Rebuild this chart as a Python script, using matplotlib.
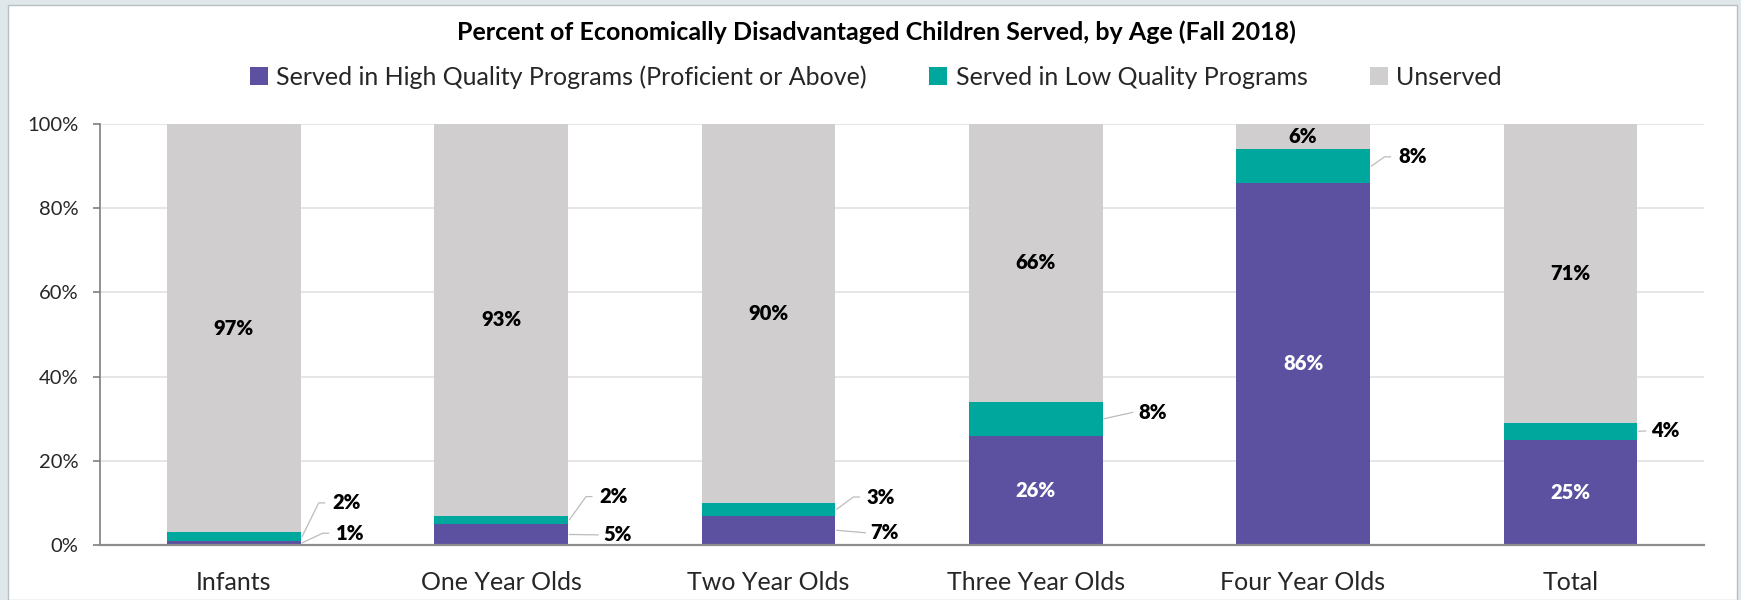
import matplotlib
matplotlib.use("Agg")
import matplotlib.pyplot as plt
from matplotlib.patches import Rectangle, Patch

# ---------------- data ----------------
categories = ["Infants", "One Year Olds", "Two Year Olds", "Three Year Olds", "Four Year Olds", "Total"]
high_quality = [1, 5, 7, 26, 86, 25]
low_quality = [2, 2, 3, 8, 8, 4]
unserved = [97, 93, 90, 66, 6, 71]
series_names = ["Served in High Quality Programs (Proficient or Above)",
                "Served in Low Quality Programs", "Unserved"]
yticks = [0, 20, 40, 60, 80, 100]
ytick_labels = ["0%", "20%", "40%", "60%", "80%", "100%"]
title = "Percent of Economically Disadvantaged Children Served, by Age (Fall 2018)"

# ---------------- layout / style ----------------
colors = ["#5b51a0", "#00a79d", "#d0cecf"]
FONT = ["Lato", "DejaVu Sans"]
plt.rcParams["font.family"] = FONT

# outside label placement: (series index, category index) -> (x offset from centre, label y)
outside = {
    (0, 0): (0.383, 2.8), (1, 0): (0.368, 10.0),
    (0, 1): (0.383, 2.4), (1, 1): (0.368, 11.5),
    (0, 2): (0.383, 2.9), (1, 2): (0.368, 11.4),
    (1, 3): (0.383, 31.5),
    (1, 4): (0.355, 92.2),
    (1, 5): (0.302, 27.1),
}

W, H = 1741, 600
fig = plt.figure(figsize=(W / 100, H / 100), dpi=100)
fig.patch.set_facecolor("#dfe7eb")
fig.patches.append(Rectangle((8 / W, 0), (1737 - 8) / W, (H - 5) / H, transform=fig.transFigure,
                             facecolor="white", edgecolor="#b8bfc3", lw=1.0, zorder=-10))

ax = fig.add_axes([100 / W, 1 - 545 / H, (1704 - 100) / W, (545 - 124) / H], zorder=2)
ax.set_facecolor("white")

x = list(range(len(categories)))
series = [high_quality, low_quality, unserved]
bottom = [0] * len(categories)
bw = 0.5
LBL = 14.5
for s, vals in enumerate(series):
    ax.bar(x, vals, bw, bottom=bottom, color=colors[s], edgecolor="none", zorder=2)
    for i, v in enumerate(vals):
        yc = bottom[i] + v / 2
        txt = f"{v}%"
        if (s, i) in outside:
            dx, ly = outside[(s, i)]
            tx = i + dx
            x0 = i + bw / 2 + 0.006
            ax.text(tx, ly, txt, ha="left", va="center", fontsize=LBL, fontweight="heavy",
                    color="black", zorder=4)
            if abs(ly - yc) > 1.5:
                ax.plot([x0, tx - 0.05, tx - 0.028], [yc, ly, ly], color="#bcbcbc", lw=0.9,
                        zorder=3, clip_on=False)
            else:
                ax.plot([x0, tx - 0.02], [yc, ly], color="#bcbcbc", lw=0.9, zorder=3,
                        clip_on=False)
        else:
            col = "white" if s == 0 else "black"
            ax.text(i, yc, txt, ha="center", va="center", fontsize=LBL, fontweight="heavy",
                    color=col, zorder=4)
        bottom[i] += v

ax.set_xlim(-0.5, len(categories) - 0.5)
ax.set_ylim(0, 100)
ax.set_yticks(yticks)
ax.set_yticklabels(ytick_labels, fontsize=14.5, color="#262626")
ax.set_xticks(x)
ax.set_xticklabels(categories, fontsize=18, color="#262626")
ax.tick_params(axis="x", length=0, pad=19)
ax.tick_params(axis="y", length=5, width=1.2, color="#7f7f7f", pad=10.5, direction="out")
ax.yaxis.grid(True, color="#e2e2e2", lw=1.2, zorder=0)
ax.set_axisbelow(True)
for side in ["top", "right"]:
    ax.spines[side].set_visible(False)
ax.spines["left"].set_color("#7f7f7f")
ax.spines["left"].set_linewidth(1.2)
ax.spines["bottom"].set_color("#8c8c8c")
ax.spines["bottom"].set_linewidth(1.6)

fig.text(876 / W, 1 - 32 / H, title, ha="center", va="center", fontsize=18,
         fontweight="bold", color="black")

handles = [Patch(facecolor=c, edgecolor="none") for c in colors]
fig.legend(handles, series_names, loc="center", bbox_to_anchor=(876 / W, 1 - 77 / H), ncol=3,
           frameon=False, fontsize=18, handlelength=0.7, handleheight=0.7,
           handletextpad=0.35, columnspacing=2.5, labelcolor="#262626")

fig.savefig("out.png", dpi=100, facecolor=fig.get_facecolor())
